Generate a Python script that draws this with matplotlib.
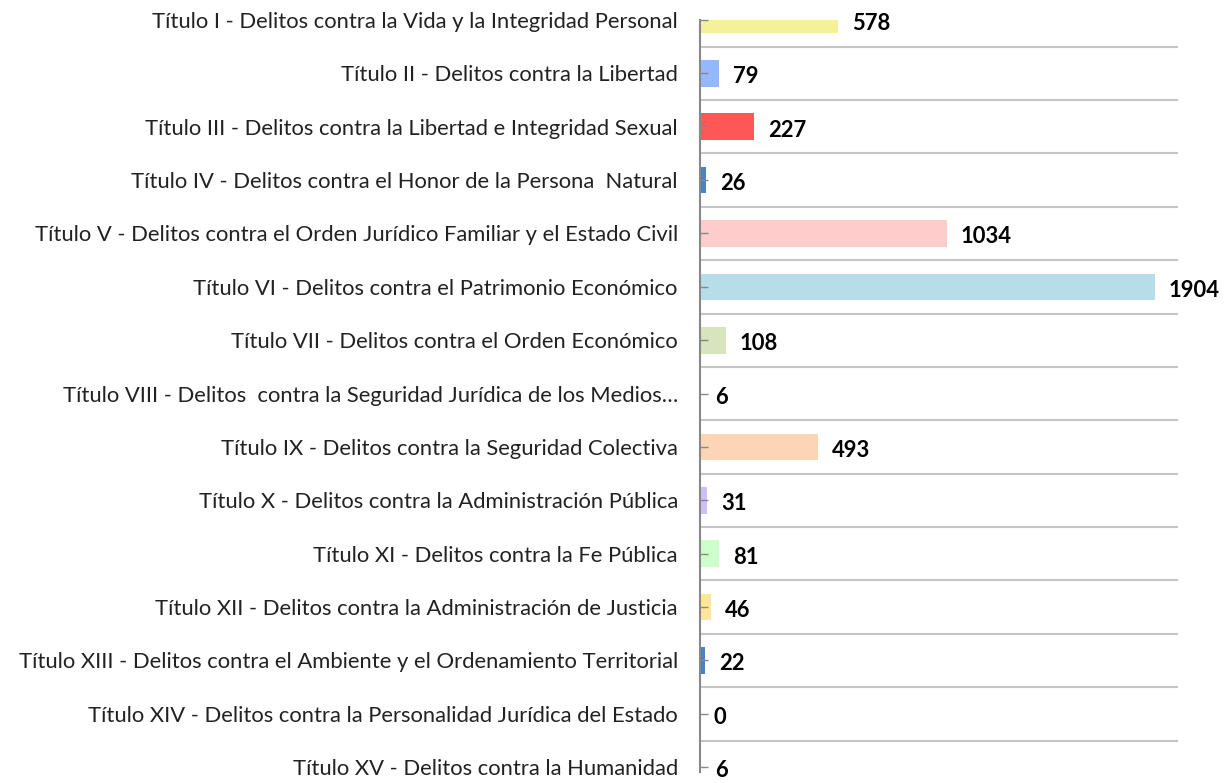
import matplotlib.pyplot as plt
import matplotlib.transforms as mtransforms
import numpy as np

categorias = [
    'Título I - Delitos contra la Vida y la Integridad Personal',
    'Título II - Delitos contra la Libertad',
    'Título III - Delitos contra la Libertad e Integridad Sexual',
    'Título IV - Delitos contra el Honor de la Persona  Natural',
    'Título V - Delitos contra el Orden Jurídico Familiar y el Estado Civil',
    'Título VI - Delitos contra el Patrimonio Económico',
    'Título VII - Delitos contra el Orden Económico',
    'Título VIII - Delitos  contra la Seguridad Jurídica de los Medios…',
    'Título IX - Delitos contra la Seguridad Colectiva',
    'Título X - Delitos contra la Administración Pública',
    'Título XI - Delitos contra la Fe Pública',
    'Título XII - Delitos contra la Administración de Justicia',
    'Título XIII - Delitos contra el Ambiente y el Ordenamiento Territorial',
    'Título XIV - Delitos contra la Personalidad Jurídica del Estado',
    'Título XV - Delitos contra la Humanidad',
]
valores = [578, 79, 227, 26, 1034, 1904, 108, 6, 493, 31, 81, 46, 22, 0, 6]
colores = ['#F5F19B', '#94B9FB', '#FF5757', '#4F81BD', '#FFCCCC', '#B7DEE8',
           '#D7E4BD', '#95B3D7', '#FCD5B5', '#CCC1F2', '#CCFFCC', '#FFE699',
           '#4F81BD', '#4F81BD', '#4F81BD']

plt.rcParams['font.family'] = ['Lato', 'DejaVu Sans']

fig = plt.figure(figsize=(12.26, 7.83), dpi=100)
ax = fig.add_axes([700/1226, 1-772/783, 478/1226, 752/783])

pos = np.arange(len(valores))
ax.barh(pos, valores, height=0.5, color=colores)

for p, v in zip(pos, valores):
    ax.annotate(str(v), (v, p), xytext=(10, -2.5), textcoords='offset points',
                va='center', ha='left', fontsize=15.8, fontweight='bold',
                annotation_clip=False)

ax.set_xlim(0, 2000)
ax.set_ylim(14.09, 0)
ax.set_yticks(pos)
ax.set_yticklabels(categorias, fontsize=15.8, color='#222222')
# texto un poco mas abajo que la marca, como en el original
desplaza = mtransforms.ScaledTranslation(0, -3/100, fig.dpi_scale_trans)
for lbl in ax.get_yticklabels():
    lbl.set_transform(lbl.get_transform() + desplaza)
ax.set_yticks(pos[:-1] + 0.5, minor=True)
ax.grid(axis='y', which='minor', color='#C4C4C4', linewidth=1.5)
ax.tick_params(axis='y', which='major', direction='in', length=6, width=1,
               color='#888888', pad=16)
ax.tick_params(axis='y', which='minor', length=0)
ax.set_xticks([])
for s in ['top', 'right', 'bottom']:
    ax.spines[s].set_visible(False)
ax.spines['left'].set_color('#888888')
ax.spines['left'].set_linewidth(1.5)

plt.savefig('out.png', dpi=100)
